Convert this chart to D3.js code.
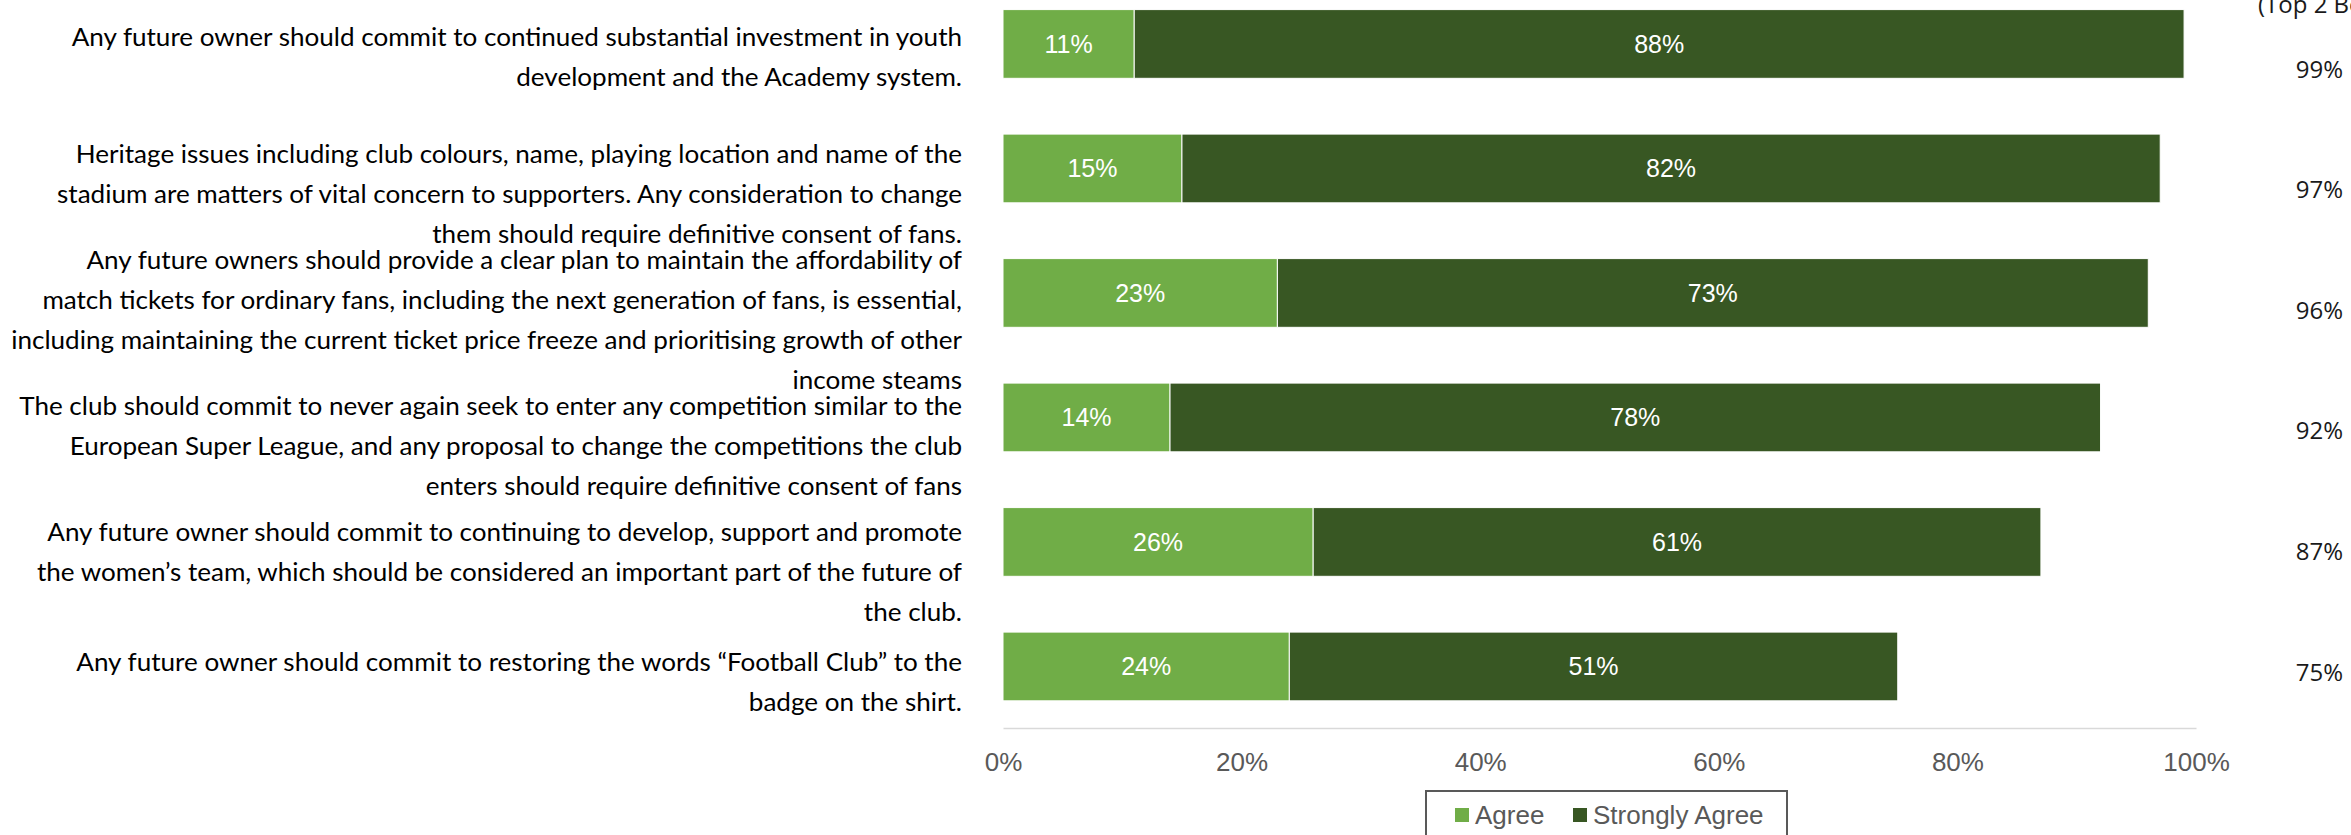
<!DOCTYPE html>
<html>
<head>
<meta charset="utf-8">
<script src="https://cdn.jsdelivr.net/npm/d3@7"></script>
<style>
  html, body { margin: 0; padding: 0; background: #ffffff; }
  svg { display: block; }
</style>
</head>
<body>
<svg id="chart" width="2351" height="835"></svg>
<script>
// ---------------- DATA ----------------
const statements = [
  ["Any future owner should commit to continued substantial investment in youth",
   "development and the Academy system."],
  ["Heritage issues including club colours, name, playing location and name of the",
   "stadium are matters of vital concern to supporters. Any consideration to change",
   "them should require definitive consent of fans."],
  ["Any future owners should provide a clear plan to maintain the affordability of",
   "match tickets for ordinary fans, including the next generation of fans, is essential,",
   "including maintaining the current ticket price freeze and prioritising growth of other",
   "income steams"],
  ["The club should commit to never again seek to enter any competition similar to the",
   "European Super League, and any proposal to change the competitions the club",
   "enters should require definitive consent of fans"],
  ["Any future owner should commit to continuing to develop, support and promote",
   "the women\u2019s team, which should be considered an important part of the future of",
   "the club."],
  ["Any future owner should commit to restoring the words \u201CFootball Club\u201D to the",
   "badge on the shirt."]
];
const agree = [11, 15, 23, 14, 26, 24];
const stronglyAgree = [88, 82, 73, 78, 61, 51];
const top2Box = [99, 97, 96, 92, 87, 75];
const seriesNames = ["Agree", "Strongly Agree"];
const xTicks = [0, 20, 40, 60, 80, 100];
const totalHeader = "(Top 2 Box)";

// ---------------- STYLE ----------------
const colors = { "Agree": "#70AD47", "Strongly Agree": "#385723" };
const svg = d3.select("#chart");

const x = d3.scaleLinear().domain([0, 100]).range([1003, 2196]);
const y = d3.scaleBand().domain(d3.range(statements.length))
  .range([-18.3, 728.7]).paddingInner(0.448).paddingOuter(0.224);

// stacked data
const rows = statements.map((s, i) => ({ i, Agree: agree[i], "Strongly Agree": stronglyAgree[i] }));
const stack = d3.stack().keys(seriesNames)(rows);

const gBars = svg.append("g");
stack.forEach(layer => {
  const g = gBars.append("g");
  g.selectAll("rect").data(layer).join("rect")
    .attr("x", d => x(d[0]))
    .attr("y", d => y(d.data.i))
    .attr("width", d => x(d[1]) - x(d[0]))
    .attr("height", y.bandwidth())
    .attr("fill", colors[layer.key])
    .attr("stroke", "#ffffff")
    .attr("stroke-width", 1);
  g.selectAll("text").data(layer).join("text")
    .attr("x", d => (x(d[0]) + x(d[1])) / 2)
    .attr("y", d => y(d.data.i) + y.bandwidth() / 2)
    .attr("dy", "0.36em")
    .attr("text-anchor", "middle")
    .attr("fill", "#ffffff")
    .style("font-family", "'Liberation Sans', Arial, sans-serif")
    .style("font-size", "25px")
    .text(d => Math.round(d[1] - d[0]) + "%");
});

// x axis
const axis = d3.axisBottom(x).tickValues(xTicks).tickFormat(d => d + "%")
  .tickSize(0).tickSizeOuter(0).tickPadding(24.5);
const gAxis = svg.append("g").attr("transform", "translate(0,728)").call(axis);
gAxis.select(".domain").attr("stroke", "#D9D9D9").attr("stroke-width", 1.5);
gAxis.selectAll("text")
  .attr("fill", "#595959")
  .style("font-family", "'Liberation Sans', Arial, sans-serif")
  .style("font-size", "26px");

// left statement labels (separate text boxes, laid out by a piecewise layout scale)
const ly = d3.scaleLinear().domain([0, 1, 4, 5]).range([57, 194, 572, 682.5]);
const lineH = 40;
const labelSize = 25.5;
const fontLabel = "Lato, 'Open Sans', sans-serif";
const gLab = svg.append("g").attr("transform", "translate(962,0)");
const inner = gLab.append("g");
statements.forEach((lines, i) => {
  const t = inner.append("text")
    .attr("text-anchor", "end")
    .attr("fill", "#000000")
    .style("font-family", fontLabel)
    .style("font-size", labelSize + "px");
  lines.forEach((ln, j) => {
    t.append("tspan").attr("x", 0)
      .attr("y", ly(i) + (j - (lines.length - 1) / 2) * lineH)
      .attr("dy", "0.35em")
      .text(ln);
  });
});
// condense horizontally to match the narrow original typeface
const ref = inner.append("text").style("font-family", fontLabel).style("font-size", labelSize + "px")
  .text(statements[0][0]);
const refW = ref.node().getComputedTextLength();
ref.remove();
const sx = 891 / refW;
inner.attr("transform", `scale(${sx},1)`);

// right column totals
svg.append("text")
  .attr("x", 2258).attr("y", 13)
  .attr("fill", "#1a1a1a")
  .style("font-family", "'Open Sans', sans-serif")
  .style("font-size", "24px")
  .text(totalHeader);
const ty = d3.scalePoint().domain(d3.range(top2Box.length)).range([69, 672]);
svg.append("g").selectAll("text").data(top2Box).join("text")
  .attr("x", 2343)
  .attr("y", (d, i) => ty(i))
  .attr("dy", "0.36em")
  .attr("text-anchor", "end")
  .attr("fill", "#1a1a1a")
  .style("font-family", "'Open Sans', sans-serif")
  .style("font-size", "24px")
  .text(d => d + "%");

// legend
const lg = svg.append("g");
lg.append("rect").attr("x", 1426).attr("y", 791).attr("width", 361).attr("height", 70)
  .attr("fill", "#ffffff").attr("stroke", "#595959").attr("stroke-width", 2);
const legendX = [1455, 1573];
seriesNames.forEach((name, k) => {
  lg.append("rect").attr("x", legendX[k]).attr("y", 808).attr("width", 14).attr("height", 14)
    .attr("fill", colors[name]);
  lg.append("text").attr("x", legendX[k] + 20).attr("y", 815).attr("dy", "0.36em")
    .attr("fill", "#595959")
    .style("font-family", "'Liberation Sans', Arial, sans-serif")
    .style("font-size", "26px")
    .text(name);
});
</script>
</body>
</html>
